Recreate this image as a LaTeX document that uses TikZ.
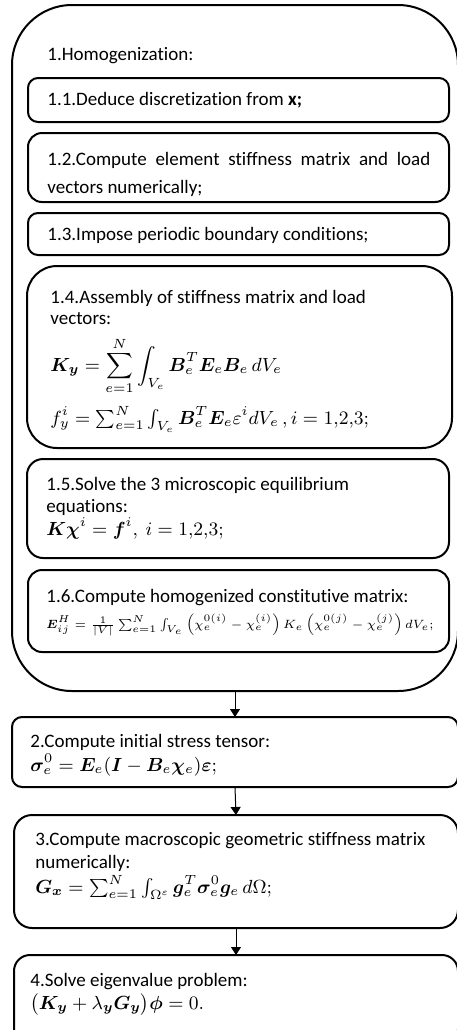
\RequirePackage{fix-cm}
\documentclass[tikz,border=0pt]{standalone}
\usepackage{fontspec}
\setmainfont[Ligatures=NoCommon]{Carlito}
\usepackage{amsmath,bm}
\usetikzlibrary{arrows.meta,fit}

\tikzset{
  box/.style={draw=black, line width=1pt, inner sep=0pt, outer sep=0pt},
  txt/.style={anchor=base west, inner sep=0pt, font=\fontsize{9.5}{11}\selectfont},
  flow/.style={black, line width=0.5pt, -{Triangle[length=4pt, width=5pt]}},
}

\begin{document}
\begin{tikzpicture}[x=0.5pt,y=-0.5pt]
\useasboundingbox (0,0) rectangle (456,1030);
% 1. homogenization block
\node[box, rounded corners=30pt, fit={(12,5)(458,691)}] (homog) {};
\node[txt] (t1) at (47,60) {1.Homogenization:};
\node[box, rounded corners=5pt, fit={(28,78)(449,122)}] (s11) {};
\node[txt] (t11) at (47,105) {1.1.Deduce discretization from \textbf{x;}};
\node[box, rounded corners=7pt, fit={(28,133)(449,202)}] (s12) {};
\node[txt] (t12a) at (47,165) {\makebox[191.5pt][s]{1.2.Compute element stiffness matrix and load}};
\node[txt] (t12b) at (47,193) {vectors numerically;};
\node[box, rounded corners=5pt, fit={(28,213)(449,255)}] (s13) {};
\node[txt] (t13) at (47,240) {1.3.Impose periodic boundary conditions;};
\node[box, rounded corners=15pt, fit={(27,266)(452,448)}] (s14) {};
\node[txt] (t14a) at (50,303) {1.4.Assembly of stiffness matrix and load};
\node[txt] (t14b) at (50,324) {vectors:};
\node[txt] (t14c) at (50,371) {$\bm{K}_{\bm{y}}=\displaystyle\sum_{e=1}^{N}\int_{V_e}\bm{B}_e^T\bm{E}_e\bm{B}_e\,dV_e$};
\node[txt] (t14d) at (50,424) {$f_y^i=\sum_{e=1}^{N}\int_{V_e}\bm{B}_e^T\bm{E}_e\varepsilon^i dV_e\,,i=1{,}2{,}3;$};
\node[box, rounded corners=8pt, fit={(27,459)(449,558)}] (s15) {};
\node[txt] (t15a) at (46,490) {1.5.Solve the 3 microscopic equilibrium};
\node[txt] (t15b) at (46,512) {equations:};
\node[txt] (t15c) at (46,535) {$\bm{K}\bm{\chi}^i=\bm{f}^i,\ i=1{,}2{,}3;$};
\node[box, rounded corners=7pt, fit={(28,570)(449,652)}] (s16) {};
\node[txt] (t16a) at (46,602) {1.6.Compute homogenized constitutive matrix:};
\node[txt, font=\fontsize{6}{7}\selectfont] (t16b) at (46,628) {$\bm{E}_{ij}^H=\frac{1}{|V|}\sum_{e=1}^{N}\int_{V_e}\left(\chi_e^{0(i)}-\chi_e^{(i)}\right)K_e\left(\chi_e^{0(j)}-\chi_e^{(j)}\right)dV_e;$};
% 2. - 4.
\node[box, rounded corners=5pt, fit={(12,717)(458,787)}] (stress) {};
\node[txt] (t2a) at (30,747) {2.Compute initial stress tensor:};
\node[txt] (t2b) at (30,771) {$\bm{\sigma}_e^0=\bm{E}_e(\bm{I}-\bm{B}_e\bm{\chi}_e)\bm{\varepsilon};$};
\node[box, rounded corners=9pt, fit={(14,815)(458,928)}] (geom) {};
\node[txt] (t3a) at (35,845) {3.Compute macroscopic geometric stiffness matrix};
\node[txt] (t3b) at (35,868) {numerically:};
\node[txt] (t3c) at (35,893) {$\bm{G}_{\bm{x}}=\sum_{e=1}^{N}\int_{\Omega^\varepsilon}\bm{g}_e^T\bm{\sigma}_e^0\bm{g}_e\,d\Omega;$};
\node[box, rounded corners=8pt, fit={(14,955)(458,1045)}] (eigen) {};
\node[txt] (t4a) at (30,986) {4.Solve eigenvalue problem:};
\node[txt] (t4b) at (30,1009) {$\bigl(\bm{K}_{\bm{y}}+\lambda_{\bm{y}}\bm{G}_{\bm{y}}\bigr)\bm{\phi}=0.$};
% arrows
\draw[flow] (homog.south) -- (stress.north);
\draw[flow] (stress.south) -- (geom.north);
\draw[flow] (geom.south) -- (eigen.north);
\end{tikzpicture}
\end{document}
